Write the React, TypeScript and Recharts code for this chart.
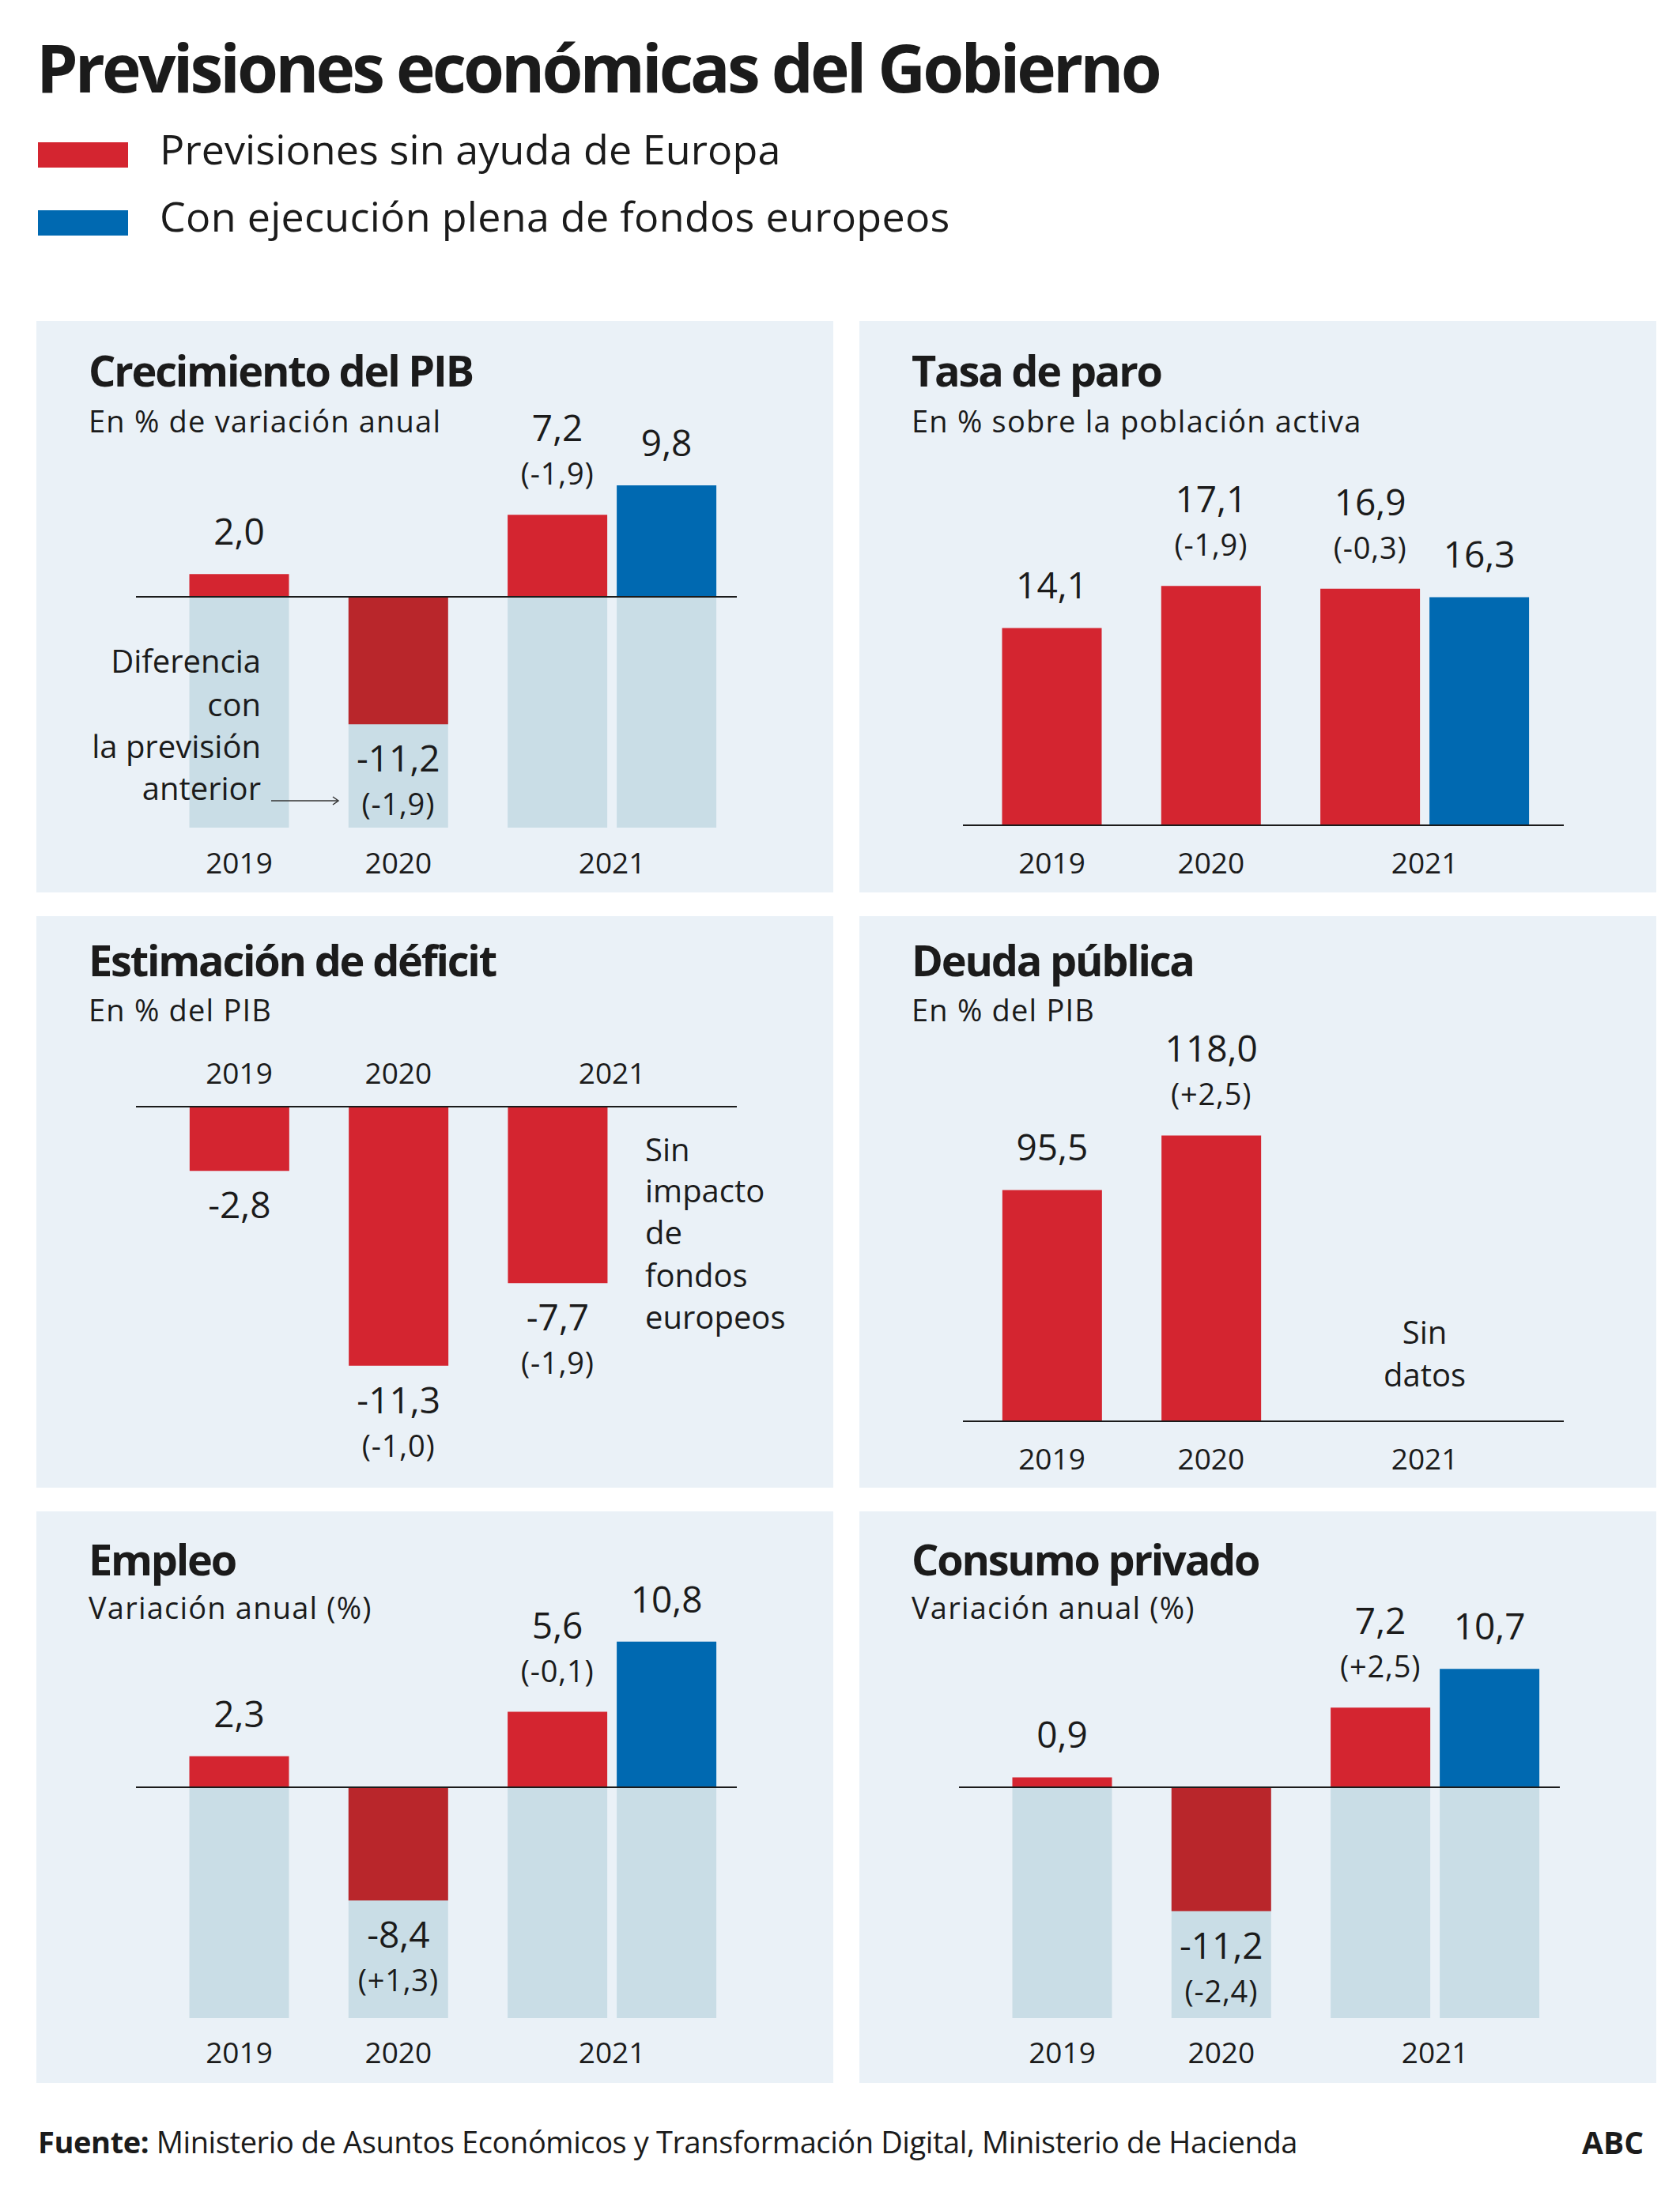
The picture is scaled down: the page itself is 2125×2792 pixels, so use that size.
import React from 'react';
import { BarChart, Bar, XAxis, YAxis, ReferenceLine, Cell, LabelList } from 'recharts';

// ---- datos ----
const YEARS = ['2019', '2020', '2021'];

const pibSin = [2.0, -11.2, 7.2];
const pibCon = [null, null, 9.8];
const pibDif = [null, '(-1,9)', '(-1,9)'];

const paroSin = [14.1, 17.1, 16.9];
const paroCon = [null, null, 16.3];
const paroDif = [null, '(-1,9)', '(-0,3)'];

const deficitSin = [-2.8, -11.3, -7.7];
const deficitCon = [null, null, null];
const deficitDif = [null, '(-1,0)', '(-1,9)'];

const deudaSin = [95.5, 118.0, null];
const deudaCon = [null, null, null];
const deudaDif = [null, '(+2,5)', null];

const empleoSin = [2.3, -8.4, 5.6];
const empleoCon = [null, null, 10.8];
const empleoDif = [null, '(+1,3)', '(-0,1)'];

const consumoSin = [0.9, -11.2, 7.2];
const consumoCon = [null, null, 10.7];
const consumoDif = [null, '(-2,4)', '(+2,5)'];

// ---- estilos ----
const FONT = "'Open Sans', sans-serif";
const TINTA = '#1b1b1b';
const ROJO = '#d42530';
const ROJO_OSCURO = '#b9262b';
const AZUL = '#0069b1';
const GRIS = '#c9dde6';
const PANEL_BG = '#eaf1f7';

const PANEL_W = 1008;
const PANEL_H = 723;
const BAR = 126;
const STEP = 201.3;
const PAIR = 138 / STEP;
const FONDO_PX = 292;
const COL_X = [46, 1087];
const ROW_Y = [406, 1159, 1912];
const ROW_TEXT = [
  [83, 141],
  [76, 133],
  [81, 136],
];
const AXIS_A = { left: 126, right: 886, first: 256.5 };
const AXIS_B = { left: 131, right: 891, first: 243.5 };

const fmt = (v: number) => v.toFixed(1).replace('.', ',');

type Row = { pos: number; valor: number; dif: string | null; serie: string; fondo: number | null };

function buildRows(sin: (number | null)[], con: (number | null)[], dif: (string | null)[], fondo: number | null) {
  const rows: Row[] = [];
  YEARS.forEach((_, i) => {
    const s = sin[i];
    const c = con[i];
    if (s != null) rows.push({ pos: i, valor: s, dif: dif[i], serie: 'sin', fondo });
    if (c != null) rows.push({ pos: i + PAIR, valor: c, dif: null, serie: 'con', fondo });
  });
  return rows;
}

function makeLabel(rows: Row[]) {
  return (props: any) => {
    const vb = props.viewBox ?? props;
    let row = rows[props.index];
    if (!row) row = rows.find((r) => r.valor === props.value) as Row;
    if (!row || vb == null) return null;
    const x = vb.x + vb.width / 2;
    const top = Math.min(vb.y, vb.y + vb.height);
    const bottom = Math.max(vb.y, vb.y + vb.height);
    const common = { x, textAnchor: 'middle' as const, fill: TINTA, fontFamily: FONT };
    const difStyle = { fontSize: 38, letterSpacing: 0.8 };
    if (row.valor >= 0) {
      if (row.dif) {
        return (
          <g>
            <text {...common} y={top - 93} fontSize={46}>{fmt(row.valor)}</text>
            <text {...common} y={top - 38} {...difStyle}>{row.dif}</text>
          </g>
        );
      }
      return <text {...common} y={top - 37} fontSize={46}>{fmt(row.valor)}</text>;
    }
    return (
      <g>
        <text {...common} y={bottom + 60} fontSize={46}>{fmt(row.valor)}</text>
        {row.dif ? <text {...common} y={bottom + 115} {...difStyle}>{row.dif}</text> : null}
      </g>
    );
  };
}

type PanelProps = {
  title: string;
  subtitle: string;
  sin: (number | null)[];
  con: (number | null)[];
  dif: (string | null)[];
  col: number;
  row: number;
  axis: typeof AXIS_A;
  zeroY: number;
  k: number;
  fondo: boolean;
  yearY: number;
  extra?: (axis: typeof AXIS_A) => React.ReactNode;
};

function Panel({ title, subtitle, sin, con, dif, col, row, axis, zeroY, k, fondo, yearY, extra }: PanelProps) {
  const fondoVal = fondo ? -FONDO_PX / k : null;
  const rows = buildRows(sin, con, dif, fondoVal);
  const plotH = PANEL_H - 1;
  const yDomain = [-(plotH - zeroY) / k, zeroY / k];
  const xDomain = [(axis.left - axis.first) / STEP, (axis.right - axis.first) / STEP];
  const yearTicks = [0, 1, 2 + PAIR / 2];
  const [titleY, subY] = ROW_TEXT[row];

  return (
    <div
      style={{
        position: 'absolute',
        left: COL_X[col],
        top: ROW_Y[row],
        width: PANEL_W,
        height: PANEL_H,
        background: PANEL_BG,
      }}
    >
      <BarChart
        width={PANEL_W}
        height={PANEL_H}
        data={rows}
        margin={{ top: 0, right: PANEL_W - axis.right, bottom: 0, left: axis.left }}
      >
        <XAxis
          type="number"
          dataKey="pos"
          domain={xDomain}
          allowDataOverflow
          ticks={yearTicks}
          interval={0}
          height={1}
          axisLine={false}
          tickLine={false}
          tickSize={0}
          tickMargin={0}
          tick={(p: any) => (
            <text x={p.x} y={yearY} textAnchor="middle" fontSize={37} fill={TINTA} fontFamily={FONT}>
              {YEARS[Math.round(p.payload.value)]}
            </text>
          )}
        />
        <XAxis xAxisId="fondo" type="number" dataKey="pos" domain={xDomain} allowDataOverflow hide />
        <YAxis type="number" domain={yDomain} allowDataOverflow hide />
        {fondo ? (
          <Bar xAxisId="fondo" dataKey="fondo" fill={GRIS} barSize={BAR} isAnimationActive={false} />
        ) : null}
        <Bar dataKey="valor" barSize={BAR} isAnimationActive={false}>
          {rows.map((r, i) => (
            <Cell
              key={i}
              fill={r.serie === 'con' ? AZUL : r.valor < 0 && fondo ? ROJO_OSCURO : ROJO}
            />
          ))}
          <LabelList dataKey="valor" content={makeLabel(rows)} />
        </Bar>
        <ReferenceLine y={0} stroke={TINTA} strokeWidth={2} />
      </BarChart>
      <svg
        width={PANEL_W}
        height={PANEL_H}
        style={{ position: 'absolute', left: 0, top: 0, pointerEvents: 'none' }}
        fontFamily={FONT}
      >
        <text x={66} y={titleY} fontSize={54} fontWeight={700} letterSpacing={-2.2} fill={TINTA}>
          {title}
        </text>
        <text x={66} y={subY} fontSize={38} letterSpacing={1.2} fill={TINTA}>
          {subtitle}
        </text>
        {extra ? extra(axis) : null}
      </svg>
    </div>
  );
}

const notaPib = () => (
  <g fill={TINTA} fontSize={40} textAnchor="end">
    <text x={284} y={445}>Diferencia</text>
    <text x={284} y={500}>con</text>
    <text x={284} y={553}>la previsión</text>
    <text x={284} y={606}>anterior</text>
    <line x1={297} y1={607} x2={382} y2={607} stroke="#333" strokeWidth={1.5} />
    <path d="M375,602 L382,607 L375,612" fill="none" stroke="#333" strokeWidth={1.5} />
  </g>
);

const notaDeficit = () => (
  <g fill={TINTA} fontSize={40}>
    <text x={770} y={310}>Sin</text>
    <text x={770} y={362}>impacto</text>
    <text x={770} y={415}>de</text>
    <text x={770} y={469}>fondos</text>
    <text x={770} y={522}>europeos</text>
  </g>
);

const notaDeuda = (axis: typeof AXIS_A) => {
  const cx = axis.first + (2 + PAIR / 2) * STEP;
  return (
    <g fill={TINTA} fontSize={40} textAnchor="middle">
      <text x={cx} y={541}>Sin</text>
      <text x={cx} y={595}>datos</text>
    </g>
  );
};

export default function App() {
  return (
    <div
      style={{
        position: 'absolute',
        left: 0,
        top: 0,
        width: 2125,
        height: 2792,
        background: '#ffffff',
        overflow: 'hidden',
        fontFamily: FONT,
      }}
    >
      <svg width={2125} height={340} style={{ position: 'absolute', left: 0, top: 0 }} fontFamily={FONT}>
        <text x={46} y={117} fontSize={84} fontWeight={700} letterSpacing={-3.9} fill={TINTA}>
          Previsiones económicas del Gobierno
        </text>
        <rect x={48} y={180} width={114} height={32} fill={ROJO} />
        <text x={202} y={208} fontSize={52} letterSpacing={0.1} fill={TINTA}>
          Previsiones sin ayuda de Europa
        </text>
        <rect x={48} y={266} width={114} height={32} fill={AZUL} />
        <text x={202} y={293} fontSize={52} letterSpacing={0.3} fill={TINTA}>
          Con ejecución plena de fondos europeos
        </text>
      </svg>

      <Panel
        title="Crecimiento del PIB"
        subtitle="En % de variación anual"
        sin={pibSin}
        con={pibCon}
        dif={pibDif}
        col={0}
        row={0}
        axis={AXIS_A}
        zeroY={349}
        k={14.4}
        fondo
        yearY={699}
        extra={notaPib}
      />
      <Panel
        title="Tasa de paro"
        subtitle="En % sobre la población activa"
        sin={paroSin}
        con={paroCon}
        dif={paroDif}
        col={1}
        row={0}
        axis={AXIS_B}
        zeroY={638}
        k={17.7}
        fondo={false}
        yearY={699}
      />
      <Panel
        title="Estimación de déficit"
        subtitle="En % del PIB"
        sin={deficitSin}
        con={deficitCon}
        dif={deficitDif}
        col={0}
        row={1}
        axis={AXIS_A}
        zeroY={241}
        k={29}
        fondo={false}
        yearY={212}
        extra={notaDeficit}
      />
      <Panel
        title="Deuda pública"
        subtitle="En % del PIB"
        sin={deudaSin}
        con={deudaCon}
        dif={deudaDif}
        col={1}
        row={1}
        axis={AXIS_B}
        zeroY={639}
        k={3.064}
        fondo={false}
        yearY={700}
        extra={notaDeuda}
      />
      <Panel
        title="Empleo"
        subtitle="Variación anual (%)"
        sin={empleoSin}
        con={empleoCon}
        dif={empleoDif}
        col={0}
        row={2}
        axis={AXIS_A}
        zeroY={349}
        k={17.05}
        fondo
        yearY={698}
      />
      <Panel
        title="Consumo privado"
        subtitle="Variación anual (%)"
        sin={consumoSin}
        con={consumoCon}
        dif={consumoDif}
        col={1}
        row={2}
        axis={AXIS_A}
        zeroY={349}
        k={14.0}
        fondo
        yearY={698}
      />

      <svg width={2125} height={120} style={{ position: 'absolute', left: 0, top: 2660 }} fontFamily={FONT}>
        <text x={48} y={64} fontSize={38} letterSpacing={-0.4} fill={TINTA}>
          <tspan fontWeight={700}>Fuente:</tspan> Ministerio de Asuntos Económicos y Transformación Digital,
          Ministerio de Hacienda
        </text>
        <text x={2079} y={65} fontSize={39} fontWeight={700} textAnchor="end" fill={TINTA}>
          ABC
        </text>
      </svg>
    </div>
  );
}
